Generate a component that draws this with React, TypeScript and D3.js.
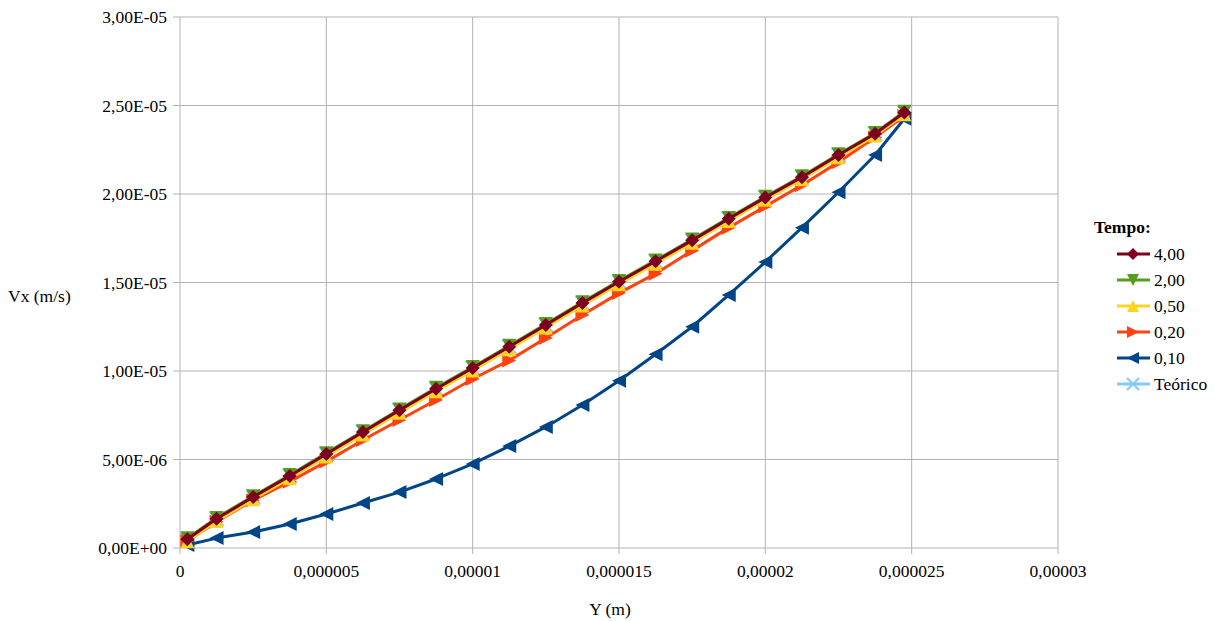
import React from "react";
import * as d3 from "d3";

const yPositions = [0.25, 1.25, 2.5, 3.75, 5, 6.25, 7.5, 8.75, 10, 11.25, 12.5, 13.75, 15, 16.25, 17.5, 18.75, 20, 21.25, 22.5, 23.75, 24.75];
const v400 = [0.5, 1.65, 2.88, 4.07, 5.31, 6.55, 7.78, 9.0, 10.17, 11.37, 12.6, 13.84, 15.04, 16.2, 17.38, 18.6, 19.8, 20.95, 22.2, 23.4, 24.6];
const v200 = [0.55, 1.7, 2.93, 4.12, 5.36, 6.6, 7.83, 9.05, 10.22, 11.42, 12.65, 13.89, 15.09, 16.25, 17.43, 18.65, 19.85, 21.0, 22.25, 23.45, 24.65];
const v050 = [0.38, 1.52, 2.75, 3.94, 5.17, 6.41, 7.64, 8.86, 10.03, 11.23, 12.46, 13.7, 14.9, 16.06, 17.25, 18.47, 19.67, 20.83, 22.08, 23.3, 24.5];
const v020 = [0.4, 1.49, 2.7, 3.75, 4.88, 6.1, 7.23, 8.36, 9.55, 10.6, 11.86, 13.16, 14.4, 15.5, 16.8, 18.1, 19.3, 20.5, 21.8, 23.2, 24.4];
const v010 = [0.17, 0.56, 0.9, 1.36, 1.92, 2.54, 3.16, 3.9, 4.75, 5.76, 6.84, 8.08, 9.45, 10.95, 12.5, 14.3, 16.16, 18.1, 20.1, 22.2, 24.25];
const vTeo = [0.5, 1.65, 2.88, 4.07, 5.31, 6.55, 7.78, 9.0, 10.17, 11.37, 12.6, 13.84, 15.04, 16.2, 17.38, 18.6, 19.8, 20.95, 22.2, 23.4, 24.6];

const xTicks = [0, 5e-6, 1e-5, 1.5e-5, 2e-5, 2.5e-5, 3e-5];
const xTickLabels = ["0", "0,000005", "0,00001", "0,000015", "0,00002", "0,000025", "0,00003"];
const yTicks = [0, 5e-6, 1e-5, 1.5e-5, 2e-5, 2.5e-5, 3e-5];
const yTickLabels = ["0,00E+00", "5,00E-06", "1,00E-05", "1,50E-05", "2,00E-05", "2,50E-05", "3,00E-05"];

type Series = { name: string; values: number[]; color: string; marker: string };
const series: Series[] = [
  { name: "4,00", values: v400, color: "#7e0021", marker: "diamond" },
  { name: "2,00", values: v200, color: "#579d1c", marker: "down" },
  { name: "0,50", values: v050, color: "#ffd320", marker: "up" },
  { name: "0,20", values: v020, color: "#ff420e", marker: "right" },
  { name: "0,10", values: v010, color: "#004586", marker: "left" },
  { name: "Teórico", values: vTeo, color: "#83caff", marker: "x" },
];

const TS: React.CSSProperties = { fontFamily: '"Liberation Serif"', fontSize: "17.5px" };

function markerPath(kind: string, s: number): string {
  switch (kind) {
    case "diamond":
      return `M0,${-s}L${s},0L0,${s}L${-s},0Z`;
    case "down":
      return `M${-s},${-s}L${s},${-s}L0,${s}Z`;
    case "up":
      return `M${-s},${s}L${s},${s}L0,${-s}Z`;
    case "right":
      return `M${-s},${-s}L${s},0L${-s},${s}Z`;
    case "left":
      return `M${s},${-s}L${-s},0L${s},${s}Z`;
    case "x":
      return `M${-s},${-s}L${s},${s}M${-s},${s}L${s},${-s}`;
  }
  return "";
}

export default function App() {
  const W = 1215, H = 621;
  const L = 180, R = 1058, T = 17, B = 548;
  const x = d3.scaleLinear().domain([0, 3e-5]).range([L, R]);
  const y = d3.scaleLinear().domain([0, 3e-5]).range([B, T]);
  const line = d3
    .line<[number, number]>()
    .x((d) => x(d[0]))
    .y((d) => y(d[1]));

  const drawOrder = [...series].reverse();

  return (
    <svg width={W} height={H} style={{ position: "absolute", left: 0, top: 0, background: "#fff" }}>
      <rect x={0} y={0} width={W} height={H} fill="#fff" />
      {xTicks.map((t, i) => (
        <line key={"gx" + i} x1={x(t)} x2={x(t)} y1={T} y2={B + 6} stroke="#b3b3b3" strokeWidth={1} />
      ))}
      {yTicks.map((t, i) => (
        <line key={"gy" + i} x1={L - 7} x2={R} y1={y(t)} y2={y(t)} stroke="#b3b3b3" strokeWidth={1} />
      ))}
      {yTicks.map((t, i) => (
        <text key={"ly" + i} x={167} y={y(t)} dy="0.35em" textAnchor="end" style={TS} fill="#000">
          {yTickLabels[i]}
        </text>
      ))}
      {xTicks.map((t, i) => (
        <text key={"lx" + i} x={x(t)} y={577} textAnchor="middle" style={TS} fill="#000">
          {xTickLabels[i]}
        </text>
      ))}
      <text x={8} y={302} style={TS} fill="#000">Vx (m/s)</text>
      <text x={610} y={615} textAnchor="middle" style={TS} fill="#000">Y (m)</text>
      {drawOrder.map((s) => {
        const pts: [number, number][] = yPositions.map((p, i) => [p * 1e-6, s.values[i] * 1e-6]);
        return (
          <g key={s.name}>
            <path d={line(pts) || ""} fill="none" stroke={s.color} strokeWidth={3} strokeLinejoin="round" />
            {pts.map((d, i) => (
              <path
                key={i}
                transform={`translate(${x(d[0])},${y(d[1])})`}
                d={markerPath(s.marker, 7)}
                fill={s.marker === "x" ? "none" : s.color}
                stroke={s.color}
                strokeWidth={s.marker === "x" ? 2 : 0}
              />
            ))}
          </g>
        );
      })}
      <text x={1094} y={233} style={{ ...TS, fontWeight: "bold" }} fill="#000">Tempo:</text>
      {series.map((s, i) => {
        const cy = 254 + i * 26;
        return (
          <g key={"lg" + s.name}>
            <line x1={1117} x2={1150} y1={cy} y2={cy} stroke={s.color} strokeWidth={3} />
            <path
              transform={`translate(1133,${cy})`}
              d={markerPath(s.marker, 6)}
              fill={s.marker === "x" ? "none" : s.color}
              stroke={s.color}
              strokeWidth={s.marker === "x" ? 2 : 0}
            />
            <text x={1154} y={cy} dy="0.35em" style={TS} fill="#000">{s.name}</text>
          </g>
        );
      })}
    </svg>
  );
}
